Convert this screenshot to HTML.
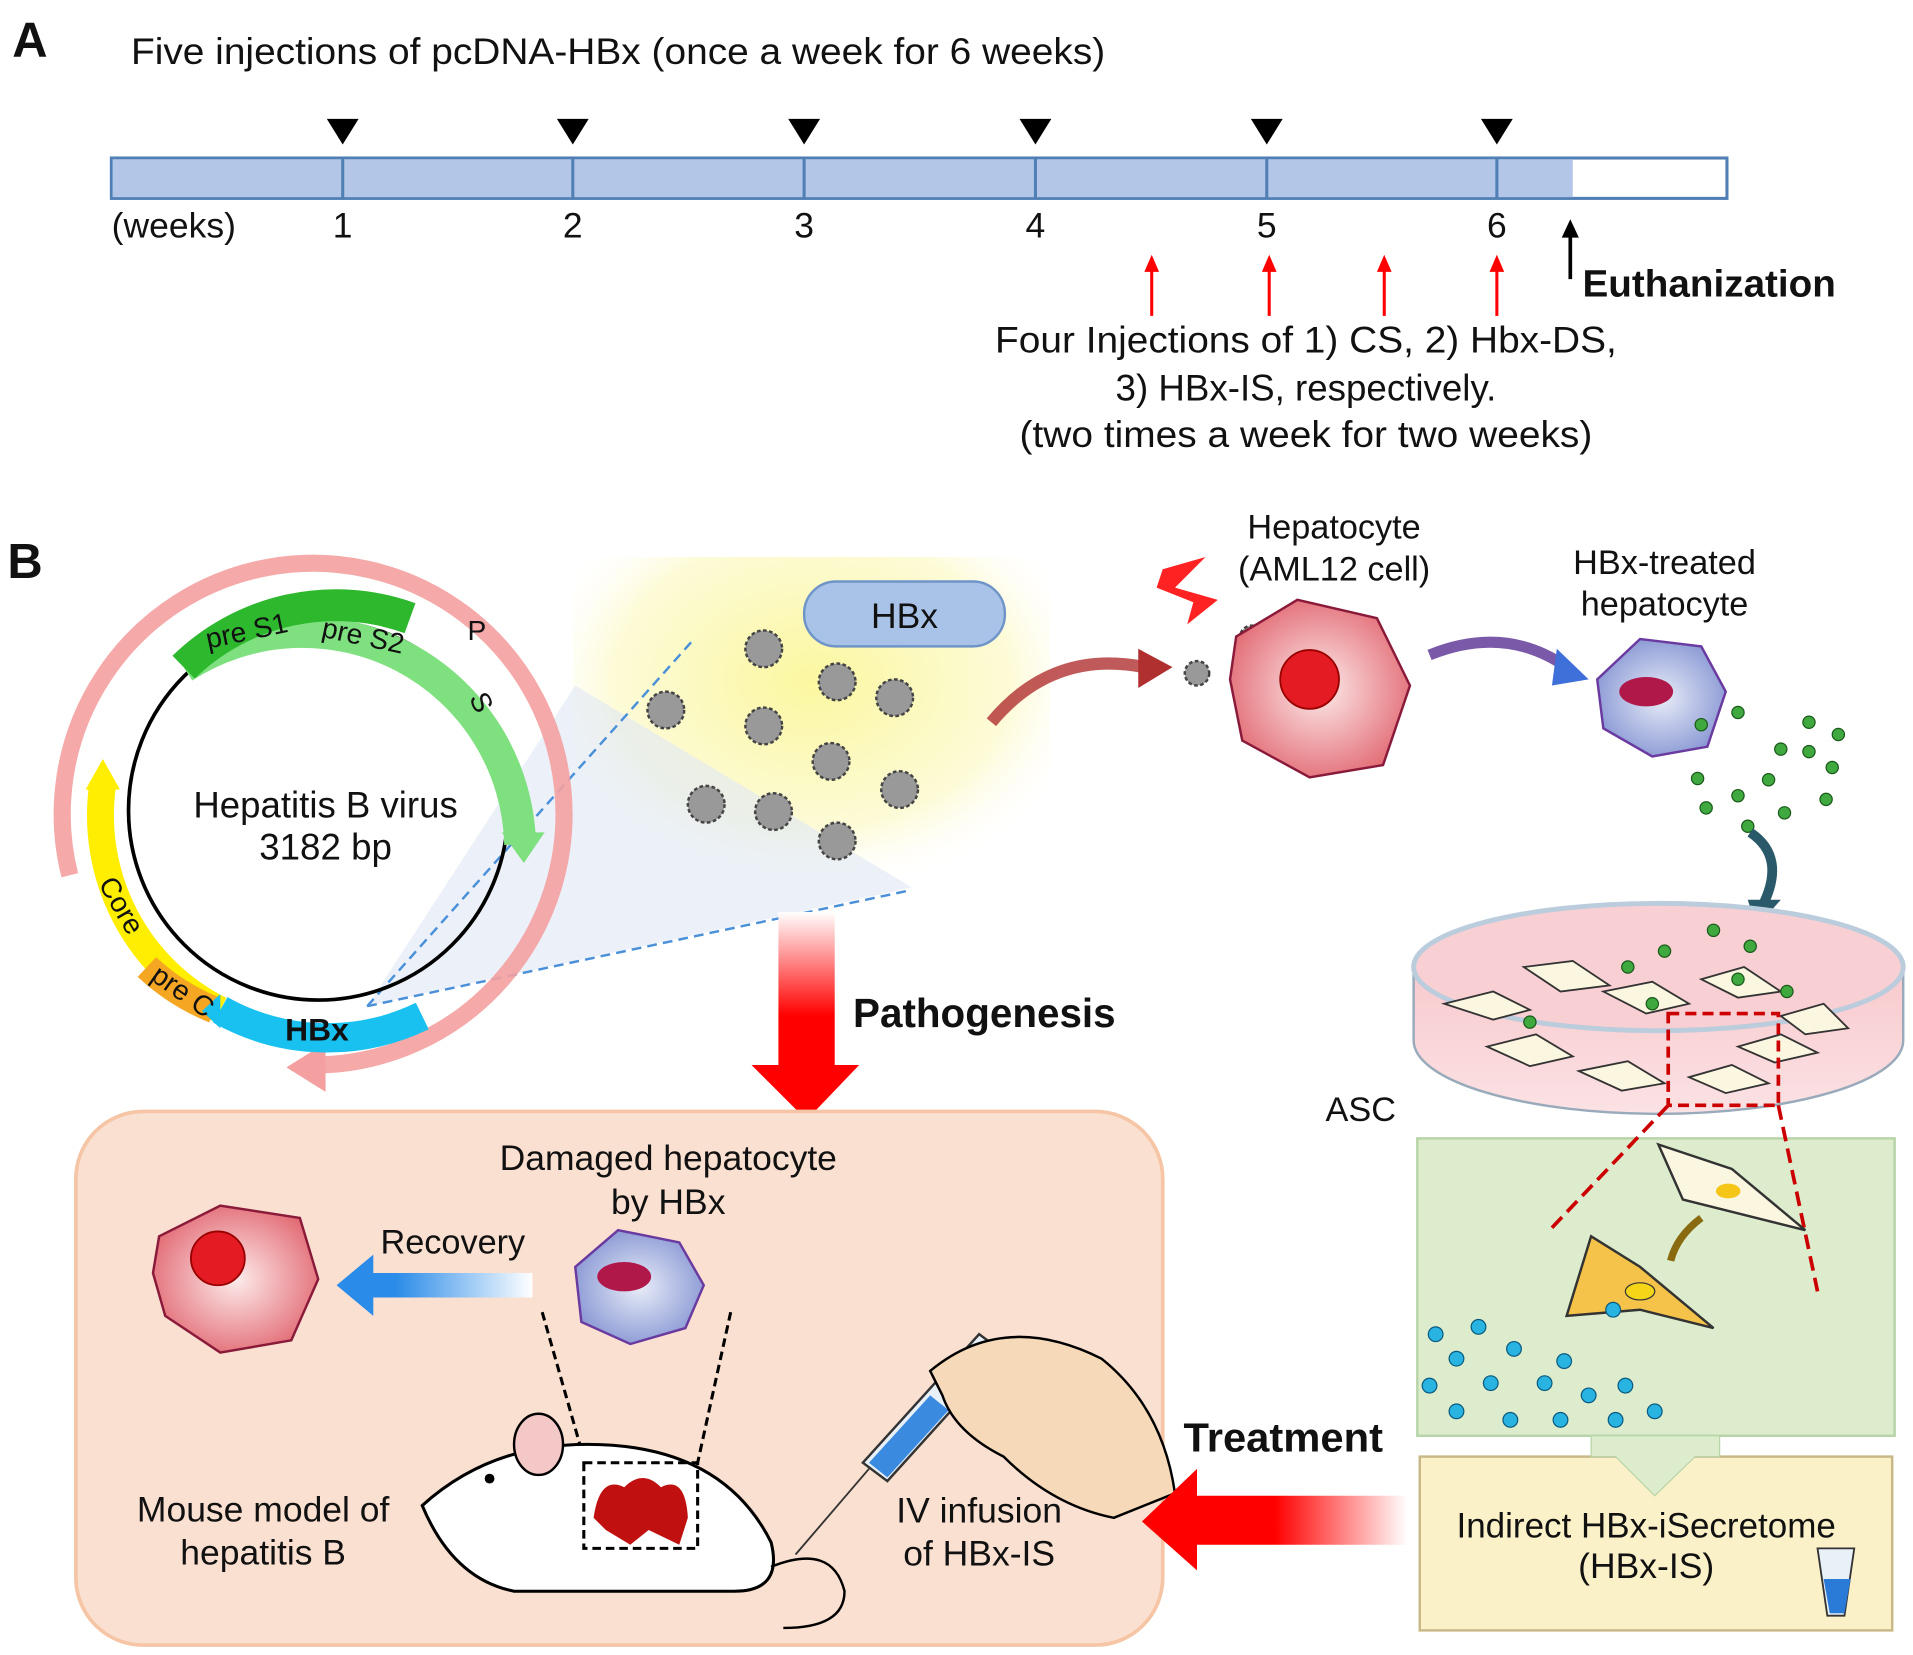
<!DOCTYPE html>
<html><head><meta charset="utf-8"><style>
html,body{margin:0;padding:0;background:#fff}
svg{display:block}
text{font-family:"Liberation Sans",Arial,sans-serif;fill:#111}
</style></head><body>
<svg width="1913" height="1655" viewBox="0 0 1563 1352" xmlns="http://www.w3.org/2000/svg">
<defs>
<radialGradient id="yel" cx="0.5" cy="0.35" r="0.6"><stop offset="0" stop-color="#fbf7a0"/><stop offset="0.7" stop-color="#fdfbd8"/><stop offset="1" stop-color="#fff" stop-opacity="0"/></radialGradient>
<radialGradient id="cellr" cx="0.5" cy="0.5" r="0.6"><stop offset="0" stop-color="#fdecec"/><stop offset="1" stop-color="#e0606a"/></radialGradient>
<radialGradient id="cellb" cx="0.5" cy="0.5" r="0.6"><stop offset="0" stop-color="#e8ecf8"/><stop offset="1" stop-color="#7f8fd0"/></radialGradient>
<linearGradient id="redv" x1="0" y1="0" x2="0" y2="1"><stop offset="0" stop-color="#fff"/><stop offset="0.5" stop-color="#f00"/></linearGradient>
<linearGradient id="redh" x1="1" y1="0" x2="0" y2="0"><stop offset="0" stop-color="#fff"/><stop offset="0.5" stop-color="#f00"/></linearGradient>
<linearGradient id="blueh" x1="1" y1="0" x2="0" y2="0"><stop offset="0" stop-color="#fff"/><stop offset="0.7" stop-color="#2a8be8"/></linearGradient>
<linearGradient id="dish" x1="0" y1="0" x2="0" y2="1"><stop offset="0" stop-color="#f8c8cc"/><stop offset="1" stop-color="#fbe2e4"/></linearGradient>
</defs>

<!-- Part A -->
<text x="10" y="46" font-size="40" font-weight="bold">A</text>
<text x="107" y="52" font-size="30" textLength="796" lengthAdjust="spacingAndGlyphs">Five injections of pcDNA-HBx (once a week for 6 weeks)</text>
<rect x="91" y="129" width="1320" height="33" fill="#fff" stroke="#4f7fb4" stroke-width="2.5"/>
<rect x="92" y="130" width="1193" height="31" fill="#b4c6e7"/>
<g stroke="#4f7fb4" stroke-width="2.5">
<line x1="280" y1="129" x2="280" y2="162"/><line x1="468" y1="129" x2="468" y2="162"/><line x1="657" y1="129" x2="657" y2="162"/><line x1="846" y1="129" x2="846" y2="162"/><line x1="1035" y1="129" x2="1035" y2="162"/><line x1="1223" y1="129" x2="1223" y2="162"/>
</g>
<g fill="#000">
<polygon points="267,97 293,97 280,118"/><polygon points="455,97 481,97 468,118"/><polygon points="644,97 670,97 657,118"/><polygon points="833,97 859,97 846,118"/><polygon points="1022,97 1048,97 1035,118"/><polygon points="1210,97 1236,97 1223,118"/>
</g>
<g font-size="29" text-anchor="middle">
<text x="142" y="194">(weeks)</text><text x="280" y="194">1</text><text x="468" y="194">2</text><text x="657" y="194">3</text><text x="846" y="194">4</text><text x="1035" y="194">5</text><text x="1223" y="194">6</text>
</g>
<g stroke="#f00" stroke-width="2.5" fill="#f00">
<line x1="941" y1="258" x2="941" y2="218"/><polygon points="935,222 947,222 941,208" stroke="none"/>
<line x1="1037" y1="258" x2="1037" y2="218"/><polygon points="1031,222 1043,222 1037,208" stroke="none"/>
<line x1="1131" y1="258" x2="1131" y2="218"/><polygon points="1125,222 1137,222 1131,208" stroke="none"/>
<line x1="1223" y1="258" x2="1223" y2="218"/><polygon points="1217,222 1229,222 1223,208" stroke="none"/>
</g>
<line x1="1283" y1="228" x2="1283" y2="190" stroke="#000" stroke-width="3"/><polygon points="1276,194 1290,194 1283,179" fill="#000"/>
<text x="1293" y="242" font-size="31" font-weight="bold" textLength="207" lengthAdjust="spacingAndGlyphs">Euthanization</text>
<g font-size="30" text-anchor="middle">
<text x="1067" y="288" textLength="508" lengthAdjust="spacingAndGlyphs">Four Injections of 1) CS, 2) Hbx-DS,</text>
<text x="1067" y="327">3) HBx-IS, respectively.</text>
<text x="1067" y="365" textLength="468" lengthAdjust="spacingAndGlyphs">(two times a week for two weeks)</text>
</g>

<!-- Part B -->
<text x="6" y="472" font-size="40" font-weight="bold">B</text>
<rect x="468" y="455" width="390" height="290" fill="url(#yel)"/>
<polygon points="300,822 470,560 745,725" fill="#dfe8f5" opacity="0.6"/>
<line x1="300" y1="822" x2="567" y2="522" stroke="#4a90d9" stroke-width="2" stroke-dasharray="8,5"/>
<line x1="300" y1="822" x2="745" y2="727" stroke="#4a90d9" stroke-width="2" stroke-dasharray="8,5"/>
<!-- plasmid -->
<path d="M 57 715 A 205 205 0 1 1 262 870" fill="none" stroke="#f4a0a0" stroke-width="14" opacity="0.9"/>
<polygon points="234,872 266,852 266,892" fill="#f4a0a0"/>
<circle cx="260" cy="662" r="155" fill="none" stroke="#000" stroke-width="3"/>
<path d="M 150 545 A 178 178 0 0 1 425 690" fill="none" stroke="#7ee07e" stroke-width="26"/>
<path d="M 150 545 A 178 178 0 0 1 335 505" fill="none" stroke="#2db82d" stroke-width="26"/>
<polygon points="410,680 445,680 428,705" fill="#7ee07e"/>
<path d="M 84 640 A 178 178 0 0 0 180 825" fill="none" stroke="#ffee00" stroke-width="22"/>
<polygon points="70,645 98,645 84,620" fill="#ffee00"/>
<path d="M 120 790 A 178 178 0 0 0 175 825" fill="none" stroke="#f5a623" stroke-width="22"/>
<path d="M 180 825 A 178 178 0 0 0 345 830" fill="none" stroke="#19c1f0" stroke-width="24"/>
<polygon points="180,812 180,840 165,826" fill="#19c1f0"/>
<text x="170" y="530" font-size="23" transform="rotate(-12 170 530)">pre S1</text>
<text x="262" y="520" font-size="23" transform="rotate(12 262 520)">pre S2</text>
<text x="382" y="523" font-size="23">P</text>
<text x="383" y="570" font-size="23" transform="rotate(65 383 570)">S</text>
<text x="80" y="722" font-size="23" transform="rotate(60 80 722)">Core</text>
<text x="122" y="800" font-size="23" transform="rotate(35 122 800)">pre C</text>
<text x="233" y="850" font-size="26" font-weight="bold">HBx</text>
<text x="266" y="668" font-size="30" text-anchor="middle" textLength="216" lengthAdjust="spacingAndGlyphs">Hepatitis B virus</text>
<text x="266" y="702" font-size="30" text-anchor="middle">3182 bp</text>
<!-- HBx particles -->
<rect x="657" y="475" width="164" height="53" rx="26" fill="#a9c3e8" stroke="#6f95c8" stroke-width="2"/>
<text x="739" y="513" font-size="29" text-anchor="middle">HBx</text>
<g fill="#999" stroke="#444" stroke-width="2" stroke-dasharray="3,2">
<circle cx="624" cy="530" r="15"/><circle cx="544" cy="580" r="15"/><circle cx="684" cy="557" r="15"/><circle cx="731" cy="570" r="15"/><circle cx="624" cy="593" r="15"/><circle cx="679" cy="622" r="15"/><circle cx="577" cy="657" r="15"/><circle cx="632" cy="663" r="15"/><circle cx="735" cy="645" r="15"/><circle cx="684" cy="687" r="15"/>
<circle cx="978" cy="550" r="10"/><circle cx="1023" cy="521" r="10"/><circle cx="1027" cy="576" r="10"/>
</g>
<path d="M 810 590 Q 860 530 935 545" fill="none" stroke="#b03030" stroke-width="10" opacity="0.8"/>
<polygon points="930,530 958,545 930,562" fill="#b03030"/>
<polygon points="950,465 985,455 960,480 995,490 970,510 975,492 945,480" fill="#f22"/>
<text x="1090" y="440" font-size="28" text-anchor="middle">Hepatocyte</text>
<text x="1090" y="474" font-size="28" text-anchor="middle">(AML12 cell)</text>
<polygon points="1010,520 1060,490 1125,505 1152,560 1130,625 1070,635 1015,605 1005,555" fill="url(#cellr)" stroke="#8a1a3a" stroke-width="2"/>
<circle cx="1070" cy="555" r="24" fill="#e51b24" stroke="#900" stroke-width="1.5"/>
<path d="M 1168 535 Q 1230 510 1280 545" fill="none" stroke="#7a5aa8" stroke-width="9"/>
<polygon points="1272,530 1298,555 1268,560" fill="#3f6fd8"/>
<text x="1360" y="469" font-size="28" text-anchor="middle">HBx-treated</text>
<text x="1360" y="503" font-size="28" text-anchor="middle">hepatocyte</text>
<polygon points="1305,555 1340,522 1390,528 1410,565 1395,610 1350,618 1310,595" fill="url(#cellb)" stroke="#6a3aa0" stroke-width="2"/>
<ellipse cx="1345" cy="565" rx="22" ry="12" fill="#b0184a"/>
<g fill="#3fa83f" stroke="#1a5a1a" stroke-width="1">
<circle cx="1390" cy="592" r="5"/><circle cx="1420" cy="582" r="5"/><circle cx="1478" cy="590" r="5"/><circle cx="1502" cy="600" r="5"/><circle cx="1455" cy="612" r="5"/><circle cx="1478" cy="614" r="5"/><circle cx="1387" cy="636" r="5"/><circle cx="1445" cy="637" r="5"/><circle cx="1497" cy="627" r="5"/><circle cx="1420" cy="650" r="5"/><circle cx="1394" cy="660" r="5"/><circle cx="1458" cy="664" r="5"/><circle cx="1492" cy="653" r="5"/><circle cx="1428" cy="675" r="5"/>
</g>
<path d="M 1430 680 Q 1460 700 1440 740" fill="none" stroke="#2a5a6a" stroke-width="8"/>
<polygon points="1428,735 1455,735 1435,758" fill="#2a5a6a"/>
<!-- dish -->
<path d="M 1155 785 L 1155 850 A 200 60 0 0 0 1555 850 L 1555 785" fill="url(#dish)" stroke="#9ab" stroke-width="2"/>
<ellipse cx="1355" cy="790" rx="200" ry="52" fill="#f8d0d4" stroke="#bcd" stroke-width="4"/>
<g fill="#fbf6e0" stroke="#333" stroke-width="1.5">
<path d="M1180 820 l40 -10 l30 15 l-30 8z"/><path d="M1245 790 l40 -5 l30 20 l-40 5z"/><path d="M1310 810 l40 -8 l30 18 l-35 8z"/><path d="M1390 800 l35 -10 l30 20 l-35 5z"/><path d="M1455 830 l35 -10 l20 20 l-35 5z"/><path d="M1215 855 l40 -10 l30 18 l-35 8z"/><path d="M1290 875 l40 -8 l30 18 l-35 6z"/><path d="M1380 880 l35 -10 l30 15 l-35 8z"/><path d="M1420 855 l35 -10 l30 15 l-35 8z"/>
</g>
<g fill="#3fa83f" stroke="#1a5a1a" stroke-width="1"><circle cx="1360" cy="777" r="5"/><circle cx="1400" cy="760" r="5"/><circle cx="1430" cy="773" r="5"/><circle cx="1330" cy="790" r="5"/><circle cx="1420" cy="800" r="5"/><circle cx="1460" cy="810" r="5"/><circle cx="1350" cy="820" r="5"/><circle cx="1250" cy="835" r="5"/></g>
<rect x="1363" y="828" width="90" height="75" fill="none" stroke="#c00" stroke-width="3" stroke-dasharray="9,5"/>
<text x="1083" y="916" font-size="28">ASC</text>
<!-- green box -->
<rect x="1158" y="930" width="390" height="243" fill="#dceccc" stroke="#b8d4a8" stroke-width="2"/>
<line x1="1363" y1="903" x2="1268" y2="1003" stroke="#c00" stroke-width="3" stroke-dasharray="12,6"/>
<line x1="1453" y1="903" x2="1485" y2="1055" stroke="#c00" stroke-width="3" stroke-dasharray="12,6"/>
<path d="M 1355 935 l60 20 l60 50 l-60 -15 l-40 -10z" fill="#fbf6e0" stroke="#333" stroke-width="2"/>
<ellipse cx="1412" cy="973" rx="10" ry="6" fill="#f5c518"/>
<path d="M 1390 995 Q 1370 1010 1365 1030" fill="none" stroke="#8a6a10" stroke-width="6"/>
<path d="M 1300 1010 l40 25 l60 50 l-60 -15 l-60 5z" fill="#f5c34a" stroke="#333" stroke-width="2"/>
<ellipse cx="1340" cy="1055" rx="12" ry="7" fill="#f5d518" stroke="#333"/>
<g fill="#29b3e0" stroke="#0a5a80" stroke-width="1">
<circle cx="1173" cy="1090" r="6"/><circle cx="1208" cy="1084" r="6"/><circle cx="1190" cy="1110" r="6"/><circle cx="1237" cy="1102" r="6"/><circle cx="1168" cy="1132" r="6"/><circle cx="1218" cy="1130" r="6"/><circle cx="1262" cy="1130" r="6"/><circle cx="1190" cy="1153" r="6"/><circle cx="1234" cy="1160" r="6"/><circle cx="1278" cy="1112" r="6"/><circle cx="1298" cy="1140" r="6"/><circle cx="1275" cy="1160" r="6"/><circle cx="1320" cy="1160" r="6"/><circle cx="1328" cy="1132" r="6"/><circle cx="1352" cy="1153" r="6"/><circle cx="1318" cy="1070" r="6"/>
</g>
<!-- yellow box -->
<rect x="1160" y="1190" width="386" height="142" fill="#fbf1c8" stroke="#c8b888" stroke-width="2"/>
<polygon points="1300,1173 1405,1173 1405,1190 1385,1190 1352,1222 1320,1190 1300,1190" fill="#dceccc" stroke="#b8d4a8"/>
<text x="1345" y="1256" font-size="29" text-anchor="middle" textLength="310" lengthAdjust="spacingAndGlyphs">Indirect HBx-iSecretome</text>
<text x="1345" y="1289" font-size="29" text-anchor="middle">(HBx-IS)</text>
<path d="M1485 1265 l30 0 l-8 55 l-14 0 z" fill="#e8f0f8" stroke="#333" stroke-width="1.5"/><path d="M1490 1290 l22 0 l-5 28 l-12 0z" fill="#2a7ad8"/>
<!-- pathogenesis arrow -->
<polygon points="636,745 682,745 682,870 702,870 659,915 614,870 636,870" fill="url(#redv)"/>
<text x="697" y="839" font-size="33" font-weight="bold">Pathogenesis</text>
<!-- bottom box -->
<rect x="62" y="908" width="888" height="436" rx="55" fill="#fae0d0" stroke="#f5c5a5" stroke-width="3"/>
<text x="546" y="956" font-size="29" text-anchor="middle">Damaged hepatocyte</text>
<text x="546" y="992" font-size="29" text-anchor="middle">by HBx</text>
<polygon points="130,1010 180,985 245,995 260,1045 238,1095 180,1105 135,1075 125,1040" fill="url(#cellr)" stroke="#8a1a3a" stroke-width="2"/>
<circle cx="178" cy="1028" r="22" fill="#e51b24" stroke="#900" stroke-width="1.5"/>
<text x="370" y="1024" font-size="28" text-anchor="middle">Recovery</text>
<polygon points="435,1040 305,1040 305,1025 275,1050 305,1075 305,1060 435,1060" fill="url(#blueh)"/>
<polygon points="470,1035 505,1005 555,1015 575,1050 560,1085 515,1098 475,1080" fill="url(#cellb)" stroke="#6a3aa0" stroke-width="2"/>
<ellipse cx="510" cy="1043" rx="22" ry="12" fill="#b0184a"/>
<line x1="443" y1="1072" x2="478" y2="1195" stroke="#000" stroke-width="2.5" stroke-dasharray="7,4"/>
<line x1="597" y1="1072" x2="570" y2="1195" stroke="#000" stroke-width="2.5" stroke-dasharray="7,4"/>
<!-- mouse -->
<path d="M 345 1230 Q 400 1180 480 1180 Q 590 1180 630 1260 Q 640 1300 600 1300 L 420 1300 Q 370 1290 345 1230 z" fill="#fff" stroke="#000" stroke-width="2.5"/>
<ellipse cx="440" cy="1180" rx="20" ry="25" fill="#f5c8c8" stroke="#000" stroke-width="2"/>
<circle cx="400" cy="1208" r="4" fill="#000"/>
<path d="M 630 1280 Q 680 1260 690 1300 Q 690 1330 640 1330" fill="none" stroke="#000" stroke-width="2"/>
<rect x="477" y="1195" width="93" height="70" fill="none" stroke="#000" stroke-width="2.5" stroke-dasharray="7,4"/>
<path d="M 485 1240 Q 490 1205 510 1215 Q 525 1200 540 1215 Q 560 1205 562 1240 L 555 1262 L 530 1250 L 515 1262 L 495 1250z" fill="#c01010"/>
<text x="215" y="1243" font-size="29" text-anchor="middle">Mouse model of</text>
<text x="215" y="1278" font-size="29" text-anchor="middle">hepatitis B</text>
<!-- syringe & hand -->
<line x1="650" y1="1270" x2="710" y2="1200" stroke="#333" stroke-width="1.5"/>
<polygon points="705,1195 800,1090 820,1105 725,1210" fill="#e8f0f8" stroke="#333" stroke-width="2"/>
<polygon points="710,1195 760,1140 775,1152 725,1207" fill="#3a8ae0"/>
<path d="M 760 1120 Q 820 1070 900 1110 Q 950 1150 960 1220 L 910 1240 Q 860 1230 820 1190 Q 780 1170 770 1140 z" fill="#f5d9b8" stroke="#000" stroke-width="2"/>
<text x="800" y="1244" font-size="29" text-anchor="middle">IV infusion</text>
<text x="800" y="1279" font-size="29" text-anchor="middle">of HBx-IS</text>
<text x="967" y="1186" font-size="33" font-weight="bold" textLength="163" lengthAdjust="spacingAndGlyphs">Treatment</text>
<polygon points="1150,1222 978,1222 978,1200 933,1243 978,1283 978,1262 1150,1262" fill="url(#redh)"/>
</svg>
</body></html>
